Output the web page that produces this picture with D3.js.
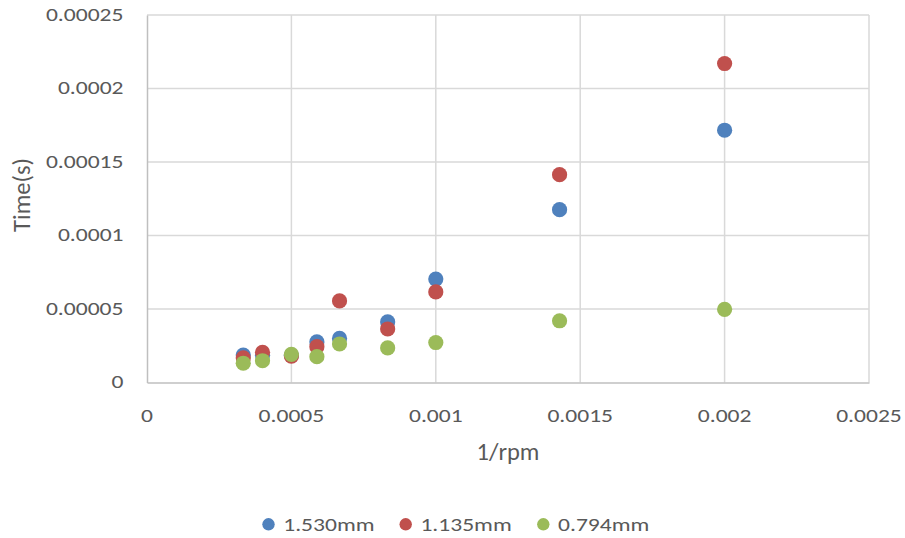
<!DOCTYPE html>
<html>
<head>
<meta charset="utf-8">
<script src="https://cdn.jsdelivr.net/npm/d3@7"></script>
<style>
  html, body { margin: 0; padding: 0; background: #fff; }
  svg { display: block; font-family: Calibri, Carlito, "Open Sans", "Liberation Sans", sans-serif; }
</style>
</head>
<body>
<svg id="chart" width="905" height="538"></svg>
<script>
// 1/rpm values (x) for each measured speed
const invRpm = [1/3000, 1/2500, 1/2000, 1/1700, 1/1500, 1/1200, 1/1000, 1/700, 1/500];

// Time (s) for each tube diameter
const seriesNames = ["1.530mm", "1.135mm", "0.794mm"];
const seriesColors = ["#4F81BD", "#C0504D", "#9BBB59"];
const time1530 = [1.87e-5, 1.85e-5, 1.85e-5, 2.76e-5, 3.00e-5, 4.12e-5, 7.04e-5, 1.176e-4, 1.716e-4];
const time1135 = [1.67e-5, 2.05e-5, 1.80e-5, 2.44e-5, 5.55e-5, 3.64e-5, 6.16e-5, 1.414e-4, 2.17e-4];
const time0794 = [1.31e-5, 1.48e-5, 1.92e-5, 1.76e-5, 2.62e-5, 2.35e-5, 2.72e-5, 4.20e-5, 4.98e-5];

const xTicks = [0, 0.0005, 0.001, 0.0015, 0.002, 0.0025];
const xTickLabels = ["0", "0.0005", "0.001", "0.0015", "0.002", "0.0025"];
const yTicks = [0, 0.00005, 0.0001, 0.00015, 0.0002, 0.00025];
const yTickLabels = ["0", "0.00005", "0.0001", "0.00015", "0.0002", "0.00025"];

const series = seriesNames.map((name, i) => ({
  name, color: seriesColors[i], values: [time1530, time1135, time0794][i]
}));

const svg = d3.select("#chart");
const plot = { left: 147, right: 869, top: 15, bottom: 382.5 };

const x = d3.scaleLinear().domain([0, 0.0025]).range([plot.left, plot.right]);
const y = d3.scaleLinear().domain([0, 0.00025]).range([plot.bottom, plot.top]);

const textColor = "#595959";
const labelSize = 18.5;

// horizontal stretch for tick and legend labels, so "0.00025" spans ~77.6px
const probe = svg.append("text").attr("font-size", labelSize).text("0.00025");
const labelStretch = 77.6 / probe.node().getComputedTextLength();
probe.remove();

function label(parent, px, py, txt, anchor) {
  return parent.append("text")
    .attr("transform", `translate(${px},${py}) scale(${labelStretch},1)`)
    .attr("text-anchor", anchor)
    .attr("fill", textColor)
    .attr("font-size", labelSize)
    .text(txt);
}

// gridlines
svg.append("g").selectAll("line").data(xTicks.slice(1)).join("line")
  .attr("x1", d => x(d)).attr("x2", d => x(d))
  .attr("y1", plot.top).attr("y2", plot.bottom)
  .attr("stroke", "#D9D9D9").attr("stroke-width", 1.5);
svg.append("g").selectAll("line").data(yTicks.slice(1)).join("line")
  .attr("x1", plot.left).attr("x2", plot.right)
  .attr("y1", d => y(d)).attr("y2", d => y(d))
  .attr("stroke", "#D9D9D9").attr("stroke-width", 1.5);

// axis lines
const xAxis = svg.append("g").attr("transform", `translate(0,${plot.bottom})`)
  .call(d3.axisBottom(x).tickValues([]).tickSizeOuter(0));
const yAxis = svg.append("g").attr("transform", `translate(${plot.left},0)`)
  .call(d3.axisLeft(y).tickValues([]).tickSizeOuter(0));
[xAxis, yAxis].forEach(g => g.select(".domain").attr("stroke", "#BFBFBF").attr("stroke-width", 1.5));

// tick labels
const xLabels = svg.append("g");
xTicks.forEach((t, i) => label(xLabels, x(t), plot.bottom + 39, xTickLabels[i], "middle"));
const yLabels = svg.append("g");
yTicks.forEach((t, i) => label(yLabels, 123.5, y(t) + 5.5, yTickLabels[i], "end"));

// axis titles
svg.append("text").attr("x", (plot.left + plot.right) / 2).attr("y", 460)
  .attr("text-anchor", "middle").attr("fill", textColor).attr("font-size", 24.5)
  .text("1/rpm");
svg.append("text")
  .attr("transform", `translate(29.5,195) rotate(-90)`)
  .attr("text-anchor", "middle").attr("fill", textColor).attr("font-size", 24.5)
  .text("Time(s)");

// points
series.forEach(s => {
  svg.append("g").selectAll("circle").data(s.values).join("circle")
    .attr("cx", (d, i) => x(invRpm[i]))
    .attr("cy", d => y(d))
    .attr("r", 7.6)
    .attr("fill", s.color);
});

// legend
const legendX = [268.5, 405.7, 543.3];
const legend = svg.append("g");
series.forEach((s, i) => {
  legend.append("circle").attr("cx", legendX[i]).attr("cy", 524.3).attr("r", 6.2)
    .attr("fill", s.color);
  label(legend, legendX[i] + 14.7, 530.5, s.name, "start");
});
</script>
</body>
</html>
